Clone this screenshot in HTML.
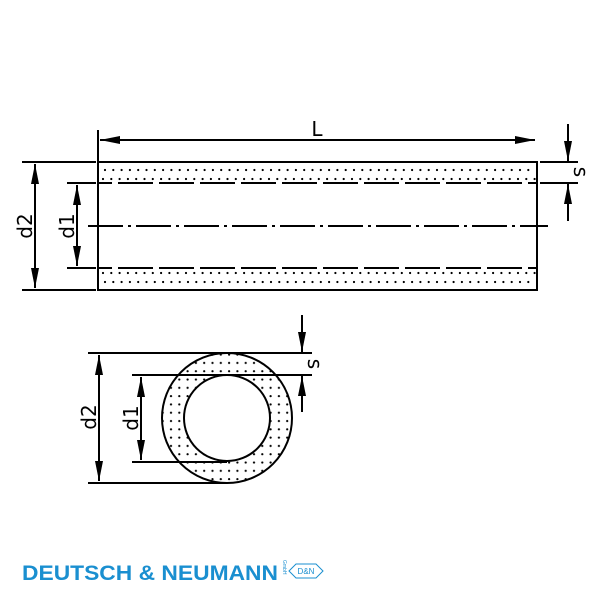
<!DOCTYPE html>
<html><head><style>body{margin:0;background:#fff}svg{display:block}</style></head><body>
<svg width="600" height="600" viewBox="0 0 600 600" xmlns="http://www.w3.org/2000/svg">
<defs>
<pattern id="dots2" x="1" y="2" width="8.3" height="8.3" patternUnits="userSpaceOnUse">
<circle cx="4" cy="4" r="1.1" fill="#000"/>
</pattern>
<marker id="a" viewBox="0 0 20 8" refX="20" refY="4" markerWidth="20" markerHeight="8" markerUnits="userSpaceOnUse" orient="auto-start-reverse"><path d="M0,0L20,4L0,8z" fill="#000"/></marker>
</defs>
<g stroke="#000" fill="none" stroke-width="2">
<!-- dots -->
<g stroke-linecap="round" stroke-width="2.2" stroke-dasharray="0,8.3">
<line x1="105" y1="170" x2="535" y2="170"/>
<line x1="103" y1="179" x2="535" y2="179"/>
<line x1="103" y1="273" x2="535" y2="273"/>
<line x1="105" y1="282" x2="535" y2="282"/>
</g>
<rect x="98" y="162" width="439" height="128"/>
<line x1="98" y1="183" x2="537" y2="183" stroke-dasharray="35,6" stroke-dashoffset="-20"/>
<line x1="98" y1="268" x2="537" y2="268" stroke-dasharray="35,6" stroke-dashoffset="-20"/>
<line x1="88" y1="226" x2="548" y2="226" stroke-dasharray="35,5,3,5"/>
<!-- L -->
<line x1="98" y1="130" x2="98" y2="162"/>
<line x1="100" y1="140" x2="535" y2="140" marker-start="url(#a)" marker-end="url(#a)"/>
<!-- d2 -->
<line x1="22" y1="162" x2="96" y2="162"/>
<line x1="22" y1="290" x2="96" y2="290"/>
<line x1="35" y1="164" x2="35" y2="288" marker-start="url(#a)" marker-end="url(#a)"/>
<!-- d1 -->
<line x1="67" y1="183" x2="96" y2="183"/>
<line x1="67" y1="268" x2="96" y2="268"/>
<line x1="77" y1="185" x2="77" y2="266" marker-start="url(#a)" marker-end="url(#a)"/>
<!-- s -->
<line x1="540" y1="162" x2="578" y2="162"/>
<line x1="540" y1="183" x2="578" y2="183"/>
<line x1="568" y1="124" x2="568" y2="161" marker-end="url(#a)"/>
<line x1="568" y1="221" x2="568" y2="184" marker-end="url(#a)"/>
<!-- end view -->
<circle cx="227" cy="418" r="54" stroke-width="22" stroke="url(#dots2)"/>
<circle cx="227" cy="418" r="65"/>
<circle cx="227" cy="418" r="43"/>
<line x1="88" y1="353" x2="312" y2="353"/>
<line x1="88" y1="483" x2="227" y2="483"/>
<line x1="99" y1="355" x2="99" y2="481" marker-start="url(#a)" marker-end="url(#a)"/>
<line x1="132" y1="375" x2="312" y2="375"/>
<line x1="132" y1="462" x2="227" y2="462"/>
<line x1="141" y1="377" x2="141" y2="460" marker-start="url(#a)" marker-end="url(#a)"/>
<line x1="302" y1="315" x2="302" y2="352" marker-end="url(#a)"/>
<line x1="302" y1="412" x2="302" y2="376" marker-end="url(#a)"/>
</g>
<g font-family="DejaVu Sans, Liberation Sans, sans-serif" font-size="20" fill="#000">
<text x="317" y="136" text-anchor="middle">L</text>
<text transform="translate(32,226) rotate(-90)" text-anchor="middle">d2</text>
<text transform="translate(74,226) rotate(-90)" text-anchor="middle">d1</text>
<text transform="translate(574,172) rotate(90)" text-anchor="middle">s</text>
<text transform="translate(96,417) rotate(-90)" text-anchor="middle">d2</text>
<text transform="translate(138,418) rotate(-90)" text-anchor="middle">d1</text>
<text transform="translate(308,364) rotate(90)" text-anchor="middle">s</text>
</g>
<text x="22" y="580" font-family="Liberation Sans, sans-serif" font-weight="bold" font-size="21.5" fill="#1a8fd0" textLength="256" lengthAdjust="spacingAndGlyphs">DEUTSCH &amp; NEUMANN</text>
<text transform="translate(283,560) rotate(90)" font-family="Liberation Sans, sans-serif" font-size="5" fill="#1a8fd0">GmbH</text>
<path d="M289,571 L296,564 L316,564 L323,571 L316,578 L296,578 Z" fill="none" stroke="#1a8fd0" stroke-width="1"/>
<text x="306" y="574" text-anchor="middle" font-family="Liberation Sans, sans-serif" font-size="8" fill="#1a8fd0">D&amp;N</text>
</svg>
</body></html>
